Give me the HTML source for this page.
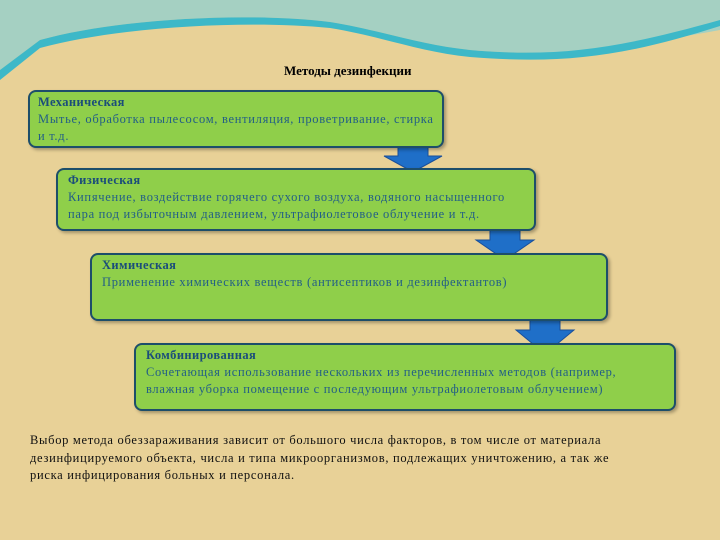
<!DOCTYPE html>
<html><head><meta charset="utf-8"><style>
body{margin:0;width:720px;height:540px;overflow:hidden;background:#e8d197;position:relative;font-family:"Liberation Serif",serif}
.box{position:absolute;background:#8fcf4a;border:2.5px solid #1d4e6a;border-radius:8px;box-sizing:border-box;padding:2px 8px;font-size:12.5px;letter-spacing:0.7px;line-height:17px;color:#235f86;box-shadow:2px 2px 3px rgba(0,0,0,.3);white-space:nowrap}
.box b{color:#1b4d7a;display:block;letter-spacing:0.4px}
.t{position:absolute;font-size:13px;font-weight:bold;color:#000}
.p{position:absolute;left:30px;top:432px;font-size:12.5px;letter-spacing:0.7px;line-height:17.5px;color:#111;white-space:nowrap}
svg{position:absolute;left:0;top:0}
</style></head><body>
<svg width="720" height="540">
<path d="M0 0H720V30C620 48 560 58 470 50C420 45 380 30 330 22C250 12 120 18 40 40L0 70Z" fill="#a5d0c2"/>
<path d="M0 70L40 40C120 18 250 12 330 22C380 30 420 45 470 50C560 58 620 48 720 20V26C620 58 560 64 470 57C420 52 380 36 330 28C250 20 120 26 40 48L0 80Z" fill="#3db8c8"/>
<path d="M398 146h30v10h14l-29 16-29-16h14z" fill="#1f6fc8" stroke="#1a4f9a"/>
<path d="M490 228h30v12h14l-29 20-29-20h14z" fill="#1f6fc8" stroke="#1a4f9a"/>
<path d="M530 318h30v12h14l-29 24-29-24h14z" fill="#1f6fc8" stroke="#1a4f9a"/>
</svg>
<div class="t" style="left:284px;top:63px">Методы дезинфекции</div>
<div class="box" style="left:28px;top:90px;width:416px;height:58px"><b>Механическая</b>Мытье, обработка пылесосом, вентиляция, проветривание, стирка<br>и т.д.</div>
<div class="box" style="left:56px;top:168px;width:480px;height:63px;padding-left:10px"><b>Физическая</b>Кипячение, воздействие горячего сухого воздуха, водяного насыщенного<br>пара под избыточным давлением, ультрафиолетовое облучение и т.д.</div>
<div class="box" style="left:90px;top:253px;width:518px;height:68px;padding-left:10px"><b>Химическая</b>Применение химических веществ (антисептиков и дезинфектантов)</div>
<div class="box" style="left:134px;top:343px;width:542px;height:68px;padding-left:10px"><b>Комбинированная</b>Сочетающая использование нескольких из перечисленных методов (например,<br>влажная уборка помещение с последующим ультрафиолетовым облучением)</div>
<div class="p">Выбор метода обеззараживания зависит от большого числа факторов, в том числе от материала<br>дезинфицируемого объекта, числа и типа микроорганизмов, подлежащих уничтожению, а так же<br>риска инфицирования больных и персонала.</div>
</body></html>
